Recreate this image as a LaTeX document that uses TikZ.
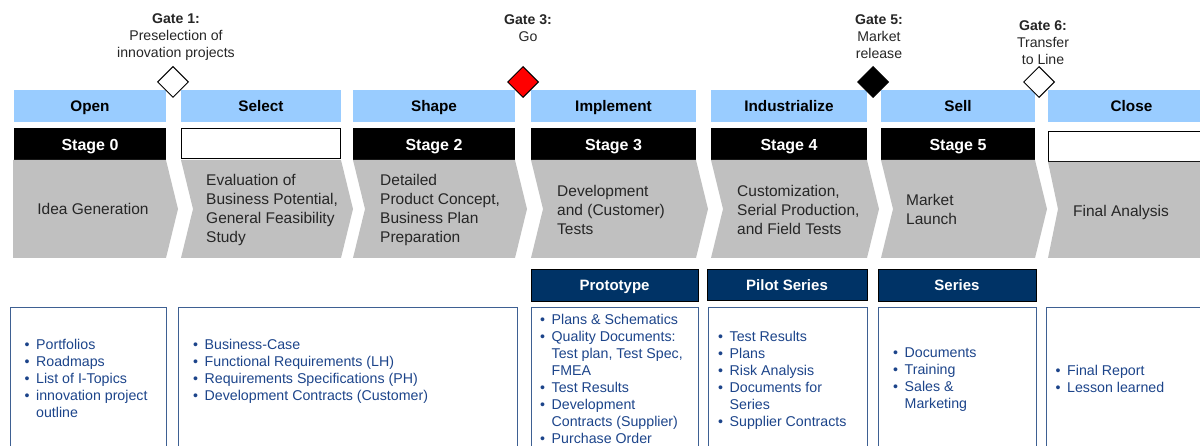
\documentclass[tikz,border=0pt]{standalone}
\usepackage{fontspec}
\setmainfont{Liberation Sans}
\usetikzlibrary{shapes.geometric}
\definecolor{hdr}{RGB}{153,204,255}
\definecolor{chev}{RGB}{192,192,192}
\definecolor{navy}{RGB}{0,51,102}
\definecolor{bodyblue}{RGB}{28,68,138}
\definecolor{boxline}{RGB}{62,96,146}
\newcommand{\bl}[1]{\strut\makebox[11.5pt][l]{\textbullet}#1}
\newcommand{\cl}[1]{\strut\hspace*{11.5pt}#1}
\begin{document}
\begin{tikzpicture}[x=1pt,y=-1pt,
  hdrbox/.style={fill=hdr,inner sep=0,text height=12pt,text depth=0pt,font=\fontsize{15.3}{18}\selectfont\bfseries},
  stagebox/.style={fill=black,text=white,inner sep=0,text height=13pt,text depth=0pt,font=\fontsize{16}{19}\selectfont\bfseries},
  emptystage/.style={fill=white,draw=black,line width=1pt,inner sep=0},
  chevtext/.style={inner sep=0,align=left,font=\fontsize{15.5}{19}\selectfont,text=black!85},
  gatetext/.style={inner sep=0,align=center,font=\fontsize{14.1}{17}\selectfont,text=black!85},
  gate/.style={diamond,draw=black,line width=1pt,minimum size=31pt,inner sep=0},
  navybox/.style={fill=navy,draw=black,line width=0.8pt,text=white,inner sep=0,text height=12pt,text depth=0pt,font=\fontsize{15}{18}\selectfont\bfseries},
  bodybox/.style={draw=boxline,line width=1.2pt,inner sep=0,anchor=north west},
  bullets/.style={inner sep=0,anchor=north west,align=left,text=bodyblue,font=\fontsize{14.2}{17}\selectfont}
]
\useasboundingbox (0,0) rectangle (1200,446);
\clip (0,0) rectangle (1200,446);

% headers
\foreach \i/\L/\R/\H in {1/14/166/Open,2/181/341/Select,3/353/515/Shape,4/531/696/Implement,5/711/867/Industrialize,6/881/1035/Sell,7/1048/1215/Close}{
  \node[hdrbox,minimum width={(\R-\L)*1pt},minimum height=32pt] (h\i) at ({(\L+\R)/2},106) {\H};
}
% stages
\foreach \i/\L/\R/\S in {1/14/166/Stage 0,3/353/515/Stage 2,4/531/696/Stage 3,5/711/867/Stage 4,6/881/1035/Stage 5}{
  \node[stagebox,minimum width={(\R-\L)*1pt},minimum height=32pt] (s\i) at ({(\L+\R)/2},144) {\S};
}
\node[emptystage,minimum width=159pt,minimum height=30pt] (s2) at (261,144) {};
\node[emptystage,minimum width=167pt,minimum height=30pt] (s7) at (1132,147) {};

% chevrons
\fill[chev] (13,160) -- (166,160) -- (178,209) -- (166,258) -- (13,258) -- cycle;
\foreach \L/\R in {181/341,353/515,531/696,711/867,881/1035}{
  \fill[chev] (\L,160) -- (\R,160) -- ({\R+12},209) -- (\R,258) -- (\L,258) -- ({\L+12},209) -- cycle;
}
\fill[chev] (1048,162) -- (1215,162) -- (1215,258) -- (1048,258) -- (1058,209) -- cycle;

\node[chevtext] (t1) at (93,209) {Idea Generation};
\node[chevtext,anchor=west] (t2) at (206,210) {Evaluation of\\Business Potential,\\General Feasibility\\Study};
\node[chevtext,anchor=west] (t3) at (380,210) {Detailed\\Product Concept,\\Business Plan\\Preparation};
\node[chevtext,anchor=west] (t4) at (557,210) {Development\\and (Customer)\\Tests};
\node[chevtext,anchor=west] (t5) at (737,210) {Customization,\\Serial Production,\\and Field Tests};
\node[chevtext,anchor=west] (t6) at (906,209) {Market\\Launch};
\node[chevtext,anchor=west] (t7) at (1073,212) {Final Analysis};

% gates
\node[gate,fill=white] (d1) at (173,82) {};
\node[gate,fill=red] (d3) at (523,82) {};
\node[gate,fill=black] (d5) at (873,82) {};
\node[gate,fill=white] (d6) at (1039,82) {};
\node[gatetext] (g1) at (176,37) {\textbf{Gate 1:}\\Preselection of\\innovation projects};
\node[gatetext] (g3) at (528,28.5) {\textbf{Gate 3:}\\Go};
\node[gatetext] (g5) at (879,37) {\textbf{Gate 5:}\\Market\\release};
\node[gatetext] (g6) at (1043,42.5) {\textbf{Gate 6:}\\Transfer\\to Line};

% navy boxes
\node[navybox,minimum width=167pt,minimum height=32pt] (p4) at (614.5,285) {Prototype};
\node[navybox,minimum width=160pt,minimum height=31pt] (p5) at (787,284.5) {Pilot Series};
\node[navybox,minimum width=158pt,minimum height=32pt] (p6) at (957,285) {Series};

% body boxes
\node[bodybox,minimum width=156pt,minimum height=160pt] (b1) at (10,307) {};
\node[bodybox,minimum width=339pt,minimum height=160pt] (b2) at (178,307) {};
\node[bodybox,minimum width=167pt,minimum height=160pt] (b4) at (531,307) {};
\node[bodybox,minimum width=159pt,minimum height=160pt] (b5) at (708,307) {};
\node[bodybox,minimum width=158pt,minimum height=160pt] (b6) at (878,307) {};
\node[bodybox,minimum width=170pt,minimum height=160pt] (b7) at (1046,307) {};

\node[bullets] (l1) at (24.5,337) {\bl{Portfolios}\\\bl{Roadmaps}\\\bl{List of I-Topics}\\\bl{innovation project}\\\cl{outline}};
\node[bullets] (l2) at (193,337) {\bl{Business-Case}\\\bl{Functional Requirements (LH)}\\\bl{Requirements Specifications (PH)}\\\bl{Development Contracts (Customer)}};
\node[bullets] (l4) at (540,312) {\bl{Plans \& Schematics}\\\bl{Quality Documents:}\\\cl{Test plan, Test Spec,}\\\cl{FMEA}\\\bl{Test Results}\\\bl{Development}\\\cl{Contracts (Supplier)}\\\bl{Purchase Order}};
\node[bullets] (l5) at (718,329) {\bl{Test Results}\\\bl{Plans}\\\bl{Risk Analysis}\\\bl{Documents for}\\\cl{Series}\\\bl{Supplier Contracts}};
\node[bullets] (l6) at (893,345) {\bl{Documents}\\\bl{Training}\\\bl{Sales \&}\\\cl{Marketing}};
\node[bullets] (l7) at (1055.5,363) {\bl{Final Report}\\\bl{Lesson learned}};
\end{tikzpicture}
\end{document}
